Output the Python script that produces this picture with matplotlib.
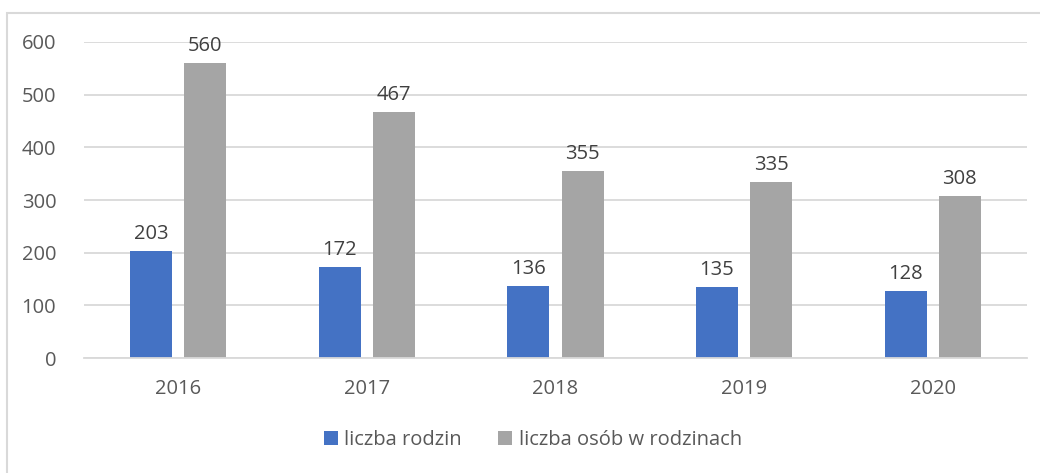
import numpy as np
import matplotlib.pyplot as plt
from matplotlib.patches import Rectangle

years = ['2016', '2017', '2018', '2019', '2020']
rodziny = [203, 172, 136, 135, 128]
osoby = [560, 467, 355, 335, 308]
labels = ['liczba rodzin', 'liczba osób w rodzinach']

plt.rcParams['font.family'] = ['Open Sans', 'DejaVu Sans']
txt_c = '#595959'

fig = plt.figure(figsize=(10.4, 4.73), dpi=100)
fig.patches.append(Rectangle((7/1040, -0.1), 1.1, 1 - 13/473 + 0.1, transform=fig.transFigure,
                             fill=False, ec='#D9D9D9', lw=1.5))
ax = fig.add_axes([84/1040, 1 - 358/473, (1027 - 84)/1040, (358 - 42)/473])

x = np.arange(len(years))
w = 0.223
off = (w + 0.064) / 2
b1 = ax.bar(x - off, rodziny, width=w, color='#4472C4', label=labels[0], zorder=2)
b2 = ax.bar(x + off, osoby, width=w, color='#A5A5A5', label=labels[1], zorder=2)
for bars in (b1, b2):
    ax.bar_label(bars, padding=5, fontsize=14.5, color='#404040')

ax.set_xlim(-0.5, 4.5)
ax.set_ylim(0, 600)
ax.set_yticks(range(0, 601, 100))
ax.set_xticks(x)
ax.set_xticklabels(years)
ax.grid(axis='y', color='#D9D9D9', lw=1.3, zorder=0)
for s in ['top', 'right', 'left']:
    ax.spines[s].set_visible(False)
ax.spines['bottom'].set_color('#D9D9D9')
ax.spines['bottom'].set_linewidth(1.3)
ax.tick_params(length=0, labelsize=14.5, labelcolor=txt_c)
ax.tick_params(axis='y', pad=20)
ax.tick_params(axis='x', pad=15)

ax.legend(loc='center', bbox_to_anchor=(533/1040, 1 - 440/473), bbox_transform=fig.transFigure,
          ncol=2, frameon=False, fontsize=14.5, labelcolor=txt_c, handlelength=0.7, handleheight=0.7,
          handletextpad=0.3, columnspacing=1.8)

fig.savefig('out.png', dpi=100)
